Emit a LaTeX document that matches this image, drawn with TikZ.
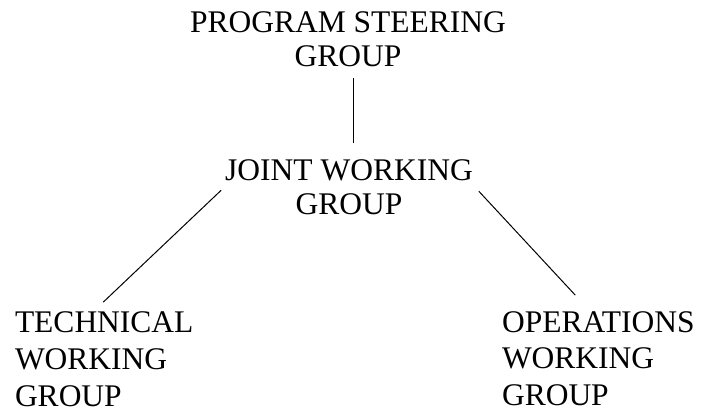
\documentclass[tikz,border=0pt]{standalone}
\usepackage{fontspec}
\setmainfont{Liberation Serif}
\begin{document}
\begin{tikzpicture}[x=1pt,y=1pt,
  lbl/.style={inner sep=0pt, outer sep=0pt, font=\fontsize{31.5}{34}\selectfont, align=center, anchor=base},
  lblb/.style={inner sep=0pt, outer sep=0pt, font=\fontsize{31.5}{36.5}\selectfont, align=left, anchor=base west},
  conn/.style={draw=black, line width=1pt}]
\useasboundingbox (0,0) rectangle (703,412);
\node[lbl] (psg) at (348,345) {PROGRAM STEERING\\GROUP};
\node[lbl] (jwg) at (349,197) {JOINT WORKING\\GROUP};
\node[lblb] (tech) at (15,6) {TECHNICAL\\WORKING\\GROUP};
\node[lblb] (ops) at (502,7) {OPERATIONS\\WORKING\\GROUP};
\draw[conn] ([xshift=5pt,yshift=-11pt]psg.south) -- ([xshift=4pt,yshift=17pt]jwg.north);
\draw[conn] ([xshift=-4pt,yshift=-2.5pt]jwg.west) -- ([xshift=-1pt,yshift=10pt]tech.north);
\draw[conn] ([xshift=6pt,yshift=-3.5pt]jwg.east) -- ([xshift=-23pt,yshift=16pt]ops.north);
\end{tikzpicture}
\end{document}
